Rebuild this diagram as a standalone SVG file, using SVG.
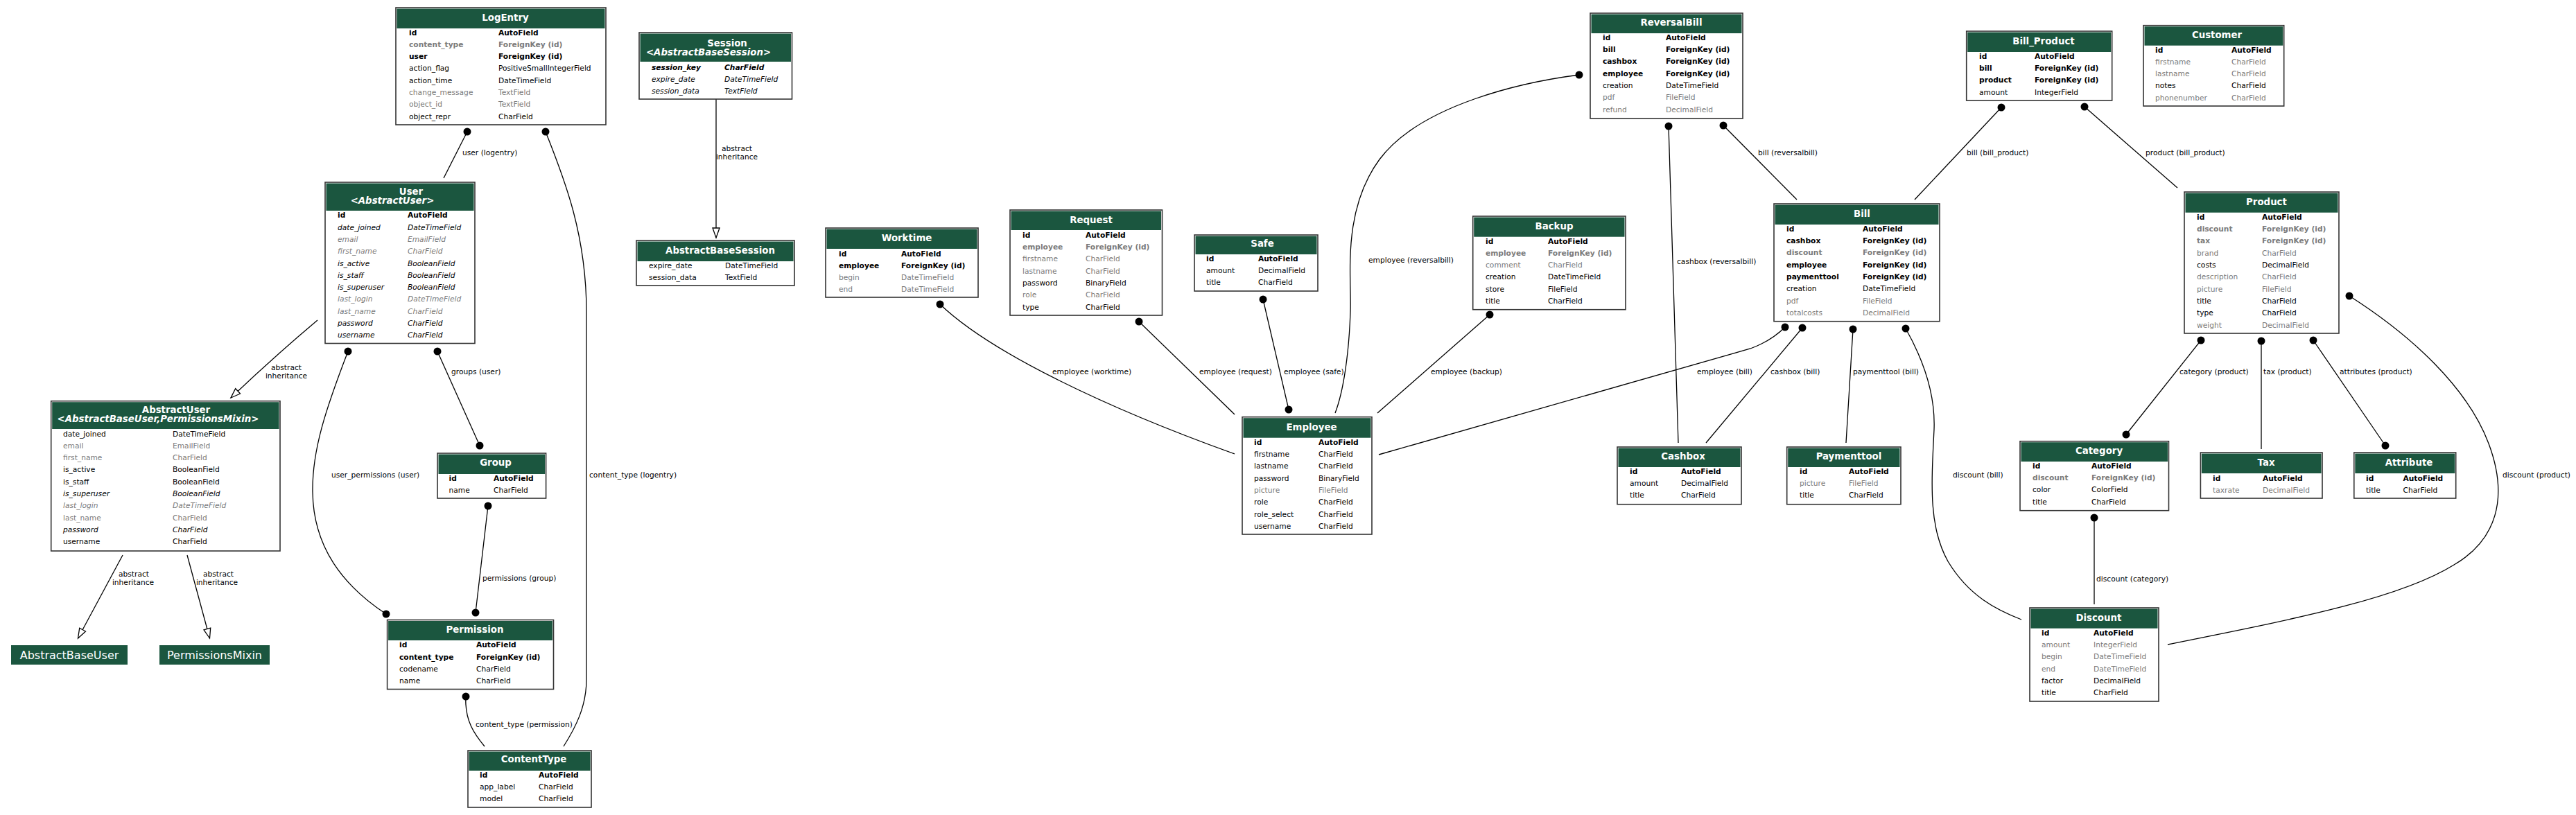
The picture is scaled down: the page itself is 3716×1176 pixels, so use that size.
<svg xmlns="http://www.w3.org/2000/svg" width="3716" height="1176" viewBox="0 0 3716 1176">
<defs>
<style>
text{font-family:"DejaVu Sans","Liberation Sans",sans-serif;font-size:10.67px;fill:#000}
.b{font-weight:bold}
.i{font-style:italic}
.g{fill:#7b7b7b}
.h{font-size:13.33px;font-weight:bold;fill:#fff;text-anchor:middle}
.box{fill:#fff;stroke:#333;stroke-width:1.6}
.hd{fill:#1b563f}
.e{fill:none;stroke:#000;stroke-width:1.3}
.d{fill:#000}
.m{text-anchor:middle}
.ab{fill:#1b563f}
.abt{font-size:16px;fill:#fff;text-anchor:middle}
</style>
<marker id="inh" markerWidth="16" markerHeight="12" refX="14" refY="6" orient="auto" markerUnits="userSpaceOnUse" overflow="visible">
<path d="M0,1 L14,6 L0,11 Z" fill="#fff" stroke="#000" stroke-width="1.3"/>
</marker>
</defs>
<rect width="3716" height="1176" fill="#fff"/>

<g id="connectors">
<path class="e" d="M674,190 L640,257"/>
<path class="e" d="M787,190 C815,260 846,340 846,450 L846,980 C846,1020 830,1050 813,1077"/>
<path class="e" d="M1033,143 L1033,343" marker-end="url(#inh)"/>
<path class="e" d="M458,462 Q395,515 333,574" marker-end="url(#inh)"/>
<path class="e" d="M177,801 L112.5,921" marker-end="url(#inh)"/>
<path class="e" d="M270,801 L302.5,921" marker-end="url(#inh)"/>
<path class="e" d="M631,507 L692,643"/>
<path class="e" d="M704,730 L686,884"/>
<path class="e" d="M502,507 C470,590 450,650 451,710 C452,790 495,845 557,886"/>
<path class="e" d="M672,1005 C670,1040 685,1060 699,1077"/>
<path class="e" d="M1356,439 C1430,510 1600,590 1781,655"/>
<path class="e" d="M1643,464 L1781,598"/>
<path class="e" d="M1822,432 L1859,591"/>
<path class="e" d="M2149,454 L1987,596"/>
<path class="e" d="M2278,108 C2200,118 2050,150 1990,230 C1935,305 1950,400 1948,450 C1946,510 1938,565 1926,596"/>
<path class="e" d="M2575,472 Q2555,492 2525,503 L1989,656"/>
<path class="e" d="M2407,182 L2421,639"/>
<path class="e" d="M2486,181 L2592,288"/>
<path class="e" d="M2600,473 L2461,639"/>
<path class="e" d="M2673,475 L2663,639"/>
<path class="e" d="M2749,474 C2775,520 2792,570 2790,620 C2786,700 2782,760 2810,810 C2840,860 2880,880 2916,894"/>
<path class="e" d="M2887,155 L2762,288"/>
<path class="e" d="M3007,154 L3141,271"/>
<path class="e" d="M3175,491 L3067,627"/>
<path class="e" d="M3262,492 L3262,648"/>
<path class="e" d="M3337,491 L3441,643"/>
<path class="e" d="M3389,427 C3480,485 3560,560 3590,640 C3620,720 3600,780 3540,815 C3460,865 3300,895 3127,930"/>
<path class="e" d="M3021,747 L3021,872"/>
<circle class="d" cx="674" cy="190" r="5.5"/>
<circle class="d" cx="787" cy="190" r="5.5"/>
<circle class="d" cx="502" cy="507" r="5.5"/>
<circle class="d" cx="631" cy="507" r="5.5"/>
<circle class="d" cx="692" cy="643" r="5.5"/>
<circle class="d" cx="704" cy="730" r="5.5"/>
<circle class="d" cx="686" cy="884" r="5.5"/>
<circle class="d" cx="557" cy="886" r="5.5"/>
<circle class="d" cx="672" cy="1005" r="5.5"/>
<circle class="d" cx="1356" cy="439" r="5.5"/>
<circle class="d" cx="1643" cy="464" r="5.5"/>
<circle class="d" cx="1822" cy="432" r="5.5"/>
<circle class="d" cx="1859" cy="591" r="5.5"/>
<circle class="d" cx="2149" cy="454" r="5.5"/>
<circle class="d" cx="2278" cy="108" r="5.5"/>
<circle class="d" cx="2407" cy="182" r="5.5"/>
<circle class="d" cx="2486" cy="181" r="5.5"/>
<circle class="d" cx="2575" cy="472" r="5.5"/>
<circle class="d" cx="2600" cy="473" r="5.5"/>
<circle class="d" cx="2673" cy="475" r="5.5"/>
<circle class="d" cx="2749" cy="474" r="5.5"/>
<circle class="d" cx="2887" cy="155" r="5.5"/>
<circle class="d" cx="3007" cy="154" r="5.5"/>
<circle class="d" cx="3175" cy="491" r="5.5"/>
<circle class="d" cx="3067" cy="627" r="5.5"/>
<circle class="d" cx="3262" cy="492" r="5.5"/>
<circle class="d" cx="3337" cy="491" r="5.5"/>
<circle class="d" cx="3441" cy="643" r="5.5"/>
<circle class="d" cx="3389" cy="427" r="5.5"/>
<circle class="d" cx="3021" cy="747" r="5.5"/>
<text x="667" y="224">user (logentry)</text>
<text class="m" x="1063" y="218">abstract</text>
<text class="m" x="1063" y="230">inheritance</text>
<text class="m" x="413" y="534">abstract</text>
<text class="m" x="413" y="546">inheritance</text>
<text x="651" y="540">groups (user)</text>
<text x="478" y="689">user_permissions (user)</text>
<text x="850" y="689">content_type (logentry)</text>
<text x="696" y="838">permissions (group)</text>
<text class="m" x="193" y="832">abstract</text>
<text class="m" x="192" y="844">inheritance</text>
<text class="m" x="315" y="832">abstract</text>
<text class="m" x="313" y="844">inheritance</text>
<text x="686" y="1049">content_type (permission)</text>
<text x="1518" y="540">employee (worktime)</text>
<text x="1730" y="540">employee (request)</text>
<text x="1852" y="540">employee (safe)</text>
<text x="2064" y="540">employee (backup)</text>
<text x="1974" y="379">employee (reversalbill)</text>
<text x="2419" y="381">cashbox (reversalbill)</text>
<text x="2536" y="224">bill (reversalbill)</text>
<text x="2837" y="224">bill (bill_product)</text>
<text x="3095" y="224">product (bill_product)</text>
<text x="2448" y="540">employee (bill)</text>
<text x="2554" y="540">cashbox (bill)</text>
<text x="2673" y="540">paymenttool (bill)</text>
<text x="3144" y="540">category (product)</text>
<text x="3265" y="540">tax (product)</text>
<text x="3375" y="540">attributes (product)</text>
<text x="2817" y="689">discount (bill)</text>
<text x="3610" y="689">discount (product)</text>
<text x="3024" y="839">discount (category)</text>
</g>

<g id="LogEntry">
<rect class="box" x="571" y="11" width="303" height="169"/>
<rect class="hd" x="572.5" y="12.5" width="300" height="28.5"/>
<text class="h" x="729" y="29.8">LogEntry</text>
<text class="b" x="590" y="50.5">id</text><text class="b" x="719" y="50.5">AutoField</text>
<text class="b g" x="590" y="67.8">content_type</text><text class="b g" x="719" y="67.8">ForeignKey (id)</text>
<text class="b" x="590" y="85.1">user</text><text class="b" x="719" y="85.1">ForeignKey (id)</text>
<text x="590" y="102.4">action_flag</text><text x="719" y="102.4">PositiveSmallIntegerField</text>
<text x="590" y="119.7">action_time</text><text x="719" y="119.7">DateTimeField</text>
<text class="g" x="590" y="137">change_message</text><text class="g" x="719" y="137">TextField</text>
<text class="g" x="590" y="154.3">object_id</text><text class="g" x="719" y="154.3">TextField</text>
<text x="590" y="171.6">object_repr</text><text x="719" y="171.6">CharField</text>
</g>

<g id="Session">
<rect class="box" x="922" y="47" width="220.5" height="96"/>
<rect class="hd" x="923.5" y="48.5" width="217.5" height="40.5"/>
<text class="h" x="1049" y="66.8">Session</text>
<text class="h i" x="1022" y="79.8">&lt;AbstractBaseSession&gt;</text>
<text class="b i" x="940" y="100.8">session_key</text><text class="b i" x="1045" y="100.8">CharField</text>
<text class="i" x="940" y="118.1">expire_date</text><text class="i" x="1045" y="118.1">DateTimeField</text>
<text class="i" x="940" y="135.4">session_data</text><text class="i" x="1045" y="135.4">TextField</text>
</g>

<g id="User">
<rect class="box" x="469" y="263" width="216" height="232.5"/>
<rect class="hd" x="470.5" y="264.5" width="213" height="39.5"/>
<text class="h" x="593" y="281.3">User</text>
<text class="h i" x="566" y="293.8">&lt;AbstractUser&gt;</text>
<text class="b" x="487" y="314.3">id</text><text class="b" x="588" y="314.3">AutoField</text>
<text class="i" x="487" y="331.6">date_joined</text><text class="i" x="588" y="331.6">DateTimeField</text>
<text class="i g" x="487" y="348.9">email</text><text class="i g" x="588" y="348.9">EmailField</text>
<text class="i g" x="487" y="366.2">first_name</text><text class="i g" x="588" y="366.2">CharField</text>
<text class="i" x="487" y="383.5">is_active</text><text class="i" x="588" y="383.5">BooleanField</text>
<text class="i" x="487" y="400.8">is_staff</text><text class="i" x="588" y="400.8">BooleanField</text>
<text class="i" x="487" y="418.1">is_superuser</text><text class="i" x="588" y="418.1">BooleanField</text>
<text class="i g" x="487" y="435.4">last_login</text><text class="i g" x="588" y="435.4">DateTimeField</text>
<text class="i g" x="487" y="452.7">last_name</text><text class="i g" x="588" y="452.7">CharField</text>
<text class="i" x="487" y="470">password</text><text class="i" x="588" y="470">CharField</text>
<text class="i" x="487" y="487.3">username</text><text class="i" x="588" y="487.3">CharField</text>
</g>

<g id="AbstractBaseSession">
<rect class="box" x="918" y="347" width="228" height="65"/>
<rect class="hd" x="919.5" y="348.5" width="225" height="28.5"/>
<text class="h" x="1039" y="365.8">AbstractBaseSession</text>
<text x="936" y="386.8">expire_date</text><text x="1046" y="386.8">DateTimeField</text>
<text x="936" y="404.1">session_data</text><text x="1046" y="404.1">TextField</text>
</g>

<g id="Worktime">
<rect class="box" x="1191" y="329" width="220" height="100"/>
<rect class="hd" x="1192.5" y="330.5" width="217" height="28.5"/>
<text class="h" x="1308" y="347.8">Worktime</text>
<text class="b" x="1210" y="369.5">id</text><text class="b" x="1300" y="369.5">AutoField</text>
<text class="b" x="1210" y="386.8">employee</text><text class="b" x="1300" y="386.8">ForeignKey (id)</text>
<text class="g" x="1210" y="404.1">begin</text><text class="g" x="1300" y="404.1">DateTimeField</text>
<text class="g" x="1210" y="421.4">end</text><text class="g" x="1300" y="421.4">DateTimeField</text>
</g>

<g id="Request">
<rect class="box" x="1457" y="303" width="219.5" height="152"/>
<rect class="hd" x="1458.5" y="304.5" width="216.5" height="27.5"/>
<text class="h" x="1574" y="321.5">Request</text>
<text class="b" x="1475" y="342.8">id</text><text class="b" x="1566" y="342.8">AutoField</text>
<text class="b g" x="1475" y="360.1">employee</text><text class="b g" x="1566" y="360.1">ForeignKey (id)</text>
<text class="g" x="1475" y="377.4">firstname</text><text class="g" x="1566" y="377.4">CharField</text>
<text class="g" x="1475" y="394.7">lastname</text><text class="g" x="1566" y="394.7">CharField</text>
<text x="1475" y="412">password</text><text x="1566" y="412">BinaryField</text>
<text class="g" x="1475" y="429.3">role</text><text class="g" x="1566" y="429.3">CharField</text>
<text x="1475" y="446.6">type</text><text x="1566" y="446.6">CharField</text>
</g>

<g id="Safe">
<rect class="box" x="1723" y="339" width="178" height="81"/>
<rect class="hd" x="1724.5" y="340.5" width="175" height="26.5"/>
<text class="h" x="1821" y="355.8">Safe</text>
<text class="b" x="1740" y="376.8">id</text><text class="b" x="1815" y="376.8">AutoField</text>
<text x="1740" y="394.1">amount</text><text x="1815" y="394.1">DecimalField</text>
<text x="1740" y="411.4">title</text><text x="1815" y="411.4">CharField</text>
</g>

<g id="Employee">
<rect class="box" x="1792" y="601.7" width="187" height="169.3"/>
<rect class="hd" x="1793.5" y="603.2" width="184" height="28.5"/>
<text class="h" x="1892" y="620.5">Employee</text>
<text class="b" x="1809" y="641.8">id</text><text class="b" x="1902" y="641.8">AutoField</text>
<text x="1809" y="659.1">firstname</text><text x="1902" y="659.1">CharField</text>
<text x="1809" y="676.4">lastname</text><text x="1902" y="676.4">CharField</text>
<text x="1809" y="693.7">password</text><text x="1902" y="693.7">BinaryField</text>
<text class="g" x="1809" y="711">picture</text><text class="g" x="1902" y="711">FileField</text>
<text x="1809" y="728.3">role</text><text x="1902" y="728.3">CharField</text>
<text x="1809" y="745.6">role_select</text><text x="1902" y="745.6">CharField</text>
<text x="1809" y="762.9">username</text><text x="1902" y="762.9">CharField</text>
</g>

<g id="Backup">
<rect class="box" x="2124.7" y="312" width="220.3" height="134.7"/>
<rect class="hd" x="2126.2" y="313.5" width="217.3" height="28.2"/>
<text class="h" x="2242" y="330.5">Backup</text>
<text class="b" x="2143" y="351.5">id</text><text class="b" x="2233" y="351.5">AutoField</text>
<text class="b g" x="2143" y="368.8">employee</text><text class="b g" x="2233" y="368.8">ForeignKey (id)</text>
<text class="g" x="2143" y="386.1">comment</text><text class="g" x="2233" y="386.1">CharField</text>
<text x="2143" y="403.4">creation</text><text x="2233" y="403.4">DateTimeField</text>
<text x="2143" y="420.7">store</text><text x="2233" y="420.7">FileField</text>
<text x="2143" y="438">title</text><text x="2233" y="438">CharField</text>
</g>

<g id="ReversalBill">
<rect class="box" x="2294" y="19" width="220" height="152"/>
<rect class="hd" x="2295.5" y="20.5" width="217" height="27.5"/>
<text class="h" x="2411" y="36.8">ReversalBill</text>
<text class="b" x="2312" y="57.8">id</text><text class="b" x="2403" y="57.8">AutoField</text>
<text class="b" x="2312" y="75.1">bill</text><text class="b" x="2403" y="75.1">ForeignKey (id)</text>
<text class="b" x="2312" y="92.4">cashbox</text><text class="b" x="2403" y="92.4">ForeignKey (id)</text>
<text class="b" x="2312" y="109.7">employee</text><text class="b" x="2403" y="109.7">ForeignKey (id)</text>
<text x="2312" y="127">creation</text><text x="2403" y="127">DateTimeField</text>
<text class="g" x="2312" y="144.3">pdf</text><text class="g" x="2403" y="144.3">FileField</text>
<text class="g" x="2312" y="161.6">refund</text><text class="g" x="2403" y="161.6">DecimalField</text>
</g>

<g id="Bill">
<rect class="box" x="2559" y="294" width="239" height="169.7"/>
<rect class="hd" x="2560.5" y="295.5" width="236" height="28.5"/>
<text class="h" x="2686" y="312.8">Bill</text>
<text class="b" x="2577" y="333.8">id</text><text class="b" x="2687" y="333.8">AutoField</text>
<text class="b" x="2577" y="351.1">cashbox</text><text class="b" x="2687" y="351.1">ForeignKey (id)</text>
<text class="b g" x="2577" y="368.4">discount</text><text class="b g" x="2687" y="368.4">ForeignKey (id)</text>
<text class="b" x="2577" y="385.7">employee</text><text class="b" x="2687" y="385.7">ForeignKey (id)</text>
<text class="b" x="2577" y="403">paymenttool</text><text class="b" x="2687" y="403">ForeignKey (id)</text>
<text x="2577" y="420.3">creation</text><text x="2687" y="420.3">DateTimeField</text>
<text class="g" x="2577" y="437.6">pdf</text><text class="g" x="2687" y="437.6">FileField</text>
<text class="g" x="2577" y="454.9">totalcosts</text><text class="g" x="2687" y="454.9">DecimalField</text>
</g>

<g id="Bill_Product">
<rect class="box" x="2836.7" y="45" width="210" height="100"/>
<rect class="hd" x="2838.2" y="46.5" width="207" height="28.5"/>
<text class="h" x="2948" y="63.8">Bill_Product</text>
<text class="b" x="2855" y="84.8">id</text><text class="b" x="2935" y="84.8">AutoField</text>
<text class="b" x="2855" y="102.1">bill</text><text class="b" x="2935" y="102.1">ForeignKey (id)</text>
<text class="b" x="2855" y="119.4">product</text><text class="b" x="2935" y="119.4">ForeignKey (id)</text>
<text x="2855" y="136.7">amount</text><text x="2935" y="136.7">IntegerField</text>
</g>

<g id="Customer">
<rect class="box" x="3092" y="36.7" width="202.7" height="116.3"/>
<rect class="hd" x="3093.5" y="38.2" width="199.7" height="27.5"/>
<text class="h" x="3198" y="54.8">Customer</text>
<text class="b" x="3109" y="75.5">id</text><text class="b" x="3219" y="75.5">AutoField</text>
<text class="g" x="3109" y="92.8">firstname</text><text class="g" x="3219" y="92.8">CharField</text>
<text class="g" x="3109" y="110.1">lastname</text><text class="g" x="3219" y="110.1">CharField</text>
<text x="3109" y="127.4">notes</text><text x="3219" y="127.4">CharField</text>
<text class="g" x="3109" y="144.7">phonenumber</text><text class="g" x="3219" y="144.7">CharField</text>
</g>

<g id="Product">
<rect class="box" x="3151" y="277" width="223" height="204"/>
<rect class="hd" x="3152.5" y="278.5" width="220" height="28.2"/>
<text class="h" x="3269.5" y="295.5">Product</text>
<text class="b" x="3169" y="316.8">id</text><text class="b" x="3263" y="316.8">AutoField</text>
<text class="b g" x="3169" y="334.1">discount</text><text class="b g" x="3263" y="334.1">ForeignKey (id)</text>
<text class="b g" x="3169" y="351.4">tax</text><text class="b g" x="3263" y="351.4">ForeignKey (id)</text>
<text class="g" x="3169" y="368.7">brand</text><text class="g" x="3263" y="368.7">CharField</text>
<text x="3169" y="386">costs</text><text x="3263" y="386">DecimalField</text>
<text class="g" x="3169" y="403.3">description</text><text class="g" x="3263" y="403.3">CharField</text>
<text class="g" x="3169" y="420.6">picture</text><text class="g" x="3263" y="420.6">FileField</text>
<text x="3169" y="437.9">title</text><text x="3263" y="437.9">CharField</text>
<text x="3169" y="455.2">type</text><text x="3263" y="455.2">CharField</text>
<text class="g" x="3169" y="472.5">weight</text><text class="g" x="3263" y="472.5">DecimalField</text>
</g>

<g id="Cashbox">
<rect class="box" x="2333" y="645" width="179" height="82.7"/>
<rect class="hd" x="2334.5" y="646.5" width="176" height="27.5"/>
<text class="h" x="2428" y="662.8">Cashbox</text>
<text class="b" x="2351" y="683.8">id</text><text class="b" x="2425" y="683.8">AutoField</text>
<text x="2351" y="701.1">amount</text><text x="2425" y="701.1">DecimalField</text>
<text x="2351" y="718.4">title</text><text x="2425" y="718.4">CharField</text>
</g>

<g id="Paymenttool">
<rect class="box" x="2577.7" y="645" width="164.3" height="82.7"/>
<rect class="hd" x="2579.2" y="646.5" width="161.3" height="27.5"/>
<text class="h" x="2667" y="662.8">Paymenttool</text>
<text class="b" x="2596" y="683.8">id</text><text class="b" x="2667" y="683.8">AutoField</text>
<text class="g" x="2596" y="701.1">picture</text><text class="g" x="2667" y="701.1">FileField</text>
<text x="2596" y="718.4">title</text><text x="2667" y="718.4">CharField</text>
</g>

<g id="Category">
<rect class="box" x="2914" y="636.7" width="214.5" height="100"/>
<rect class="hd" x="2915.5" y="638.2" width="211.5" height="27.8"/>
<text class="h" x="3028" y="654.8">Category</text>
<text class="b" x="2932" y="675.8">id</text><text class="b" x="3017" y="675.8">AutoField</text>
<text class="b g" x="2932" y="693.1">discount</text><text class="b g" x="3017" y="693.1">ForeignKey (id)</text>
<text x="2932" y="710.4">color</text><text x="3017" y="710.4">ColorField</text>
<text x="2932" y="727.7">title</text><text x="3017" y="727.7">CharField</text>
</g>

<g id="Tax">
<rect class="box" x="3174.4" y="653" width="175.6" height="66"/>
<rect class="hd" x="3175.9" y="654.5" width="172.6" height="28.5"/>
<text class="h" x="3269" y="671.8">Tax</text>
<text class="b" x="3192" y="693.5">id</text><text class="b" x="3264" y="693.5">AutoField</text>
<text class="g" x="3192" y="710.8">taxrate</text><text class="g" x="3264" y="710.8">DecimalField</text>
</g>

<g id="Attribute">
<rect class="box" x="3395.8" y="653" width="146.9" height="66"/>
<rect class="hd" x="3397.3" y="654.5" width="143.9" height="28.5"/>
<text class="h" x="3475" y="671.8">Attribute</text>
<text class="b" x="3413" y="693.5">id</text><text class="b" x="3466.5" y="693.5">AutoField</text>
<text x="3413" y="710.8">title</text><text x="3466.5" y="710.8">CharField</text>
</g>

<g id="Discount">
<rect class="box" x="2928" y="877" width="186" height="135"/>
<rect class="hd" x="2929.5" y="878.5" width="183" height="28.2"/>
<text class="h" x="3027.4" y="895.8">Discount</text>
<text class="b" x="2945" y="916.8">id</text><text class="b" x="3020" y="916.8">AutoField</text>
<text class="g" x="2945" y="934.1">amount</text><text class="g" x="3020" y="934.1">IntegerField</text>
<text class="g" x="2945" y="951.4">begin</text><text class="g" x="3020" y="951.4">DateTimeField</text>
<text class="g" x="2945" y="968.7">end</text><text class="g" x="3020" y="968.7">DateTimeField</text>
<text x="2945" y="986">factor</text><text x="3020" y="986">DecimalField</text>
<text x="2945" y="1003.3">title</text><text x="3020" y="1003.3">CharField</text>
</g>

<g id="AbstractUser">
<rect class="box" x="73.7" y="578.7" width="330.3" height="216.3"/>
<rect class="hd" x="75.2" y="580.2" width="327.3" height="38.8"/>
<text class="h" x="254" y="595.8">AbstractUser</text>
<text class="h i" x="228" y="609.4">&lt;AbstractBaseUser,PermissionsMixin&gt;</text>
<text x="91" y="629.5">date_joined</text><text x="249" y="629.5">DateTimeField</text>
<text class="g" x="91" y="646.8">email</text><text class="g" x="249" y="646.8">EmailField</text>
<text class="g" x="91" y="664.1">first_name</text><text class="g" x="249" y="664.1">CharField</text>
<text x="91" y="681.4">is_active</text><text x="249" y="681.4">BooleanField</text>
<text x="91" y="698.7">is_staff</text><text x="249" y="698.7">BooleanField</text>
<text class="i" x="91" y="716">is_superuser</text><text class="i" x="249" y="716">BooleanField</text>
<text class="i g" x="91" y="733.3">last_login</text><text class="i g" x="249" y="733.3">DateTimeField</text>
<text class="g" x="91" y="750.6">last_name</text><text class="g" x="249" y="750.6">CharField</text>
<text class="i" x="91" y="767.9">password</text><text class="i" x="249" y="767.9">CharField</text>
<text x="91" y="785.2">username</text><text x="249" y="785.2">CharField</text>
</g>

<g id="AbstractBaseUser">
<rect class="ab" x="16" y="931" width="168" height="28"/>
<text class="abt" x="100" y="951">AbstractBaseUser</text>
</g>

<g id="PermissionsMixin">
<rect class="ab" x="230" y="931" width="159" height="28"/>
<text class="abt" x="309.5" y="951">PermissionsMixin</text>
</g>

<g id="Group">
<rect class="box" x="631" y="654" width="156.6" height="65"/>
<rect class="hd" x="632.5" y="655.5" width="153.6" height="28.5"/>
<text class="h" x="715" y="672.3">Group</text>
<text class="b" x="647.5" y="693.8">id</text><text class="b" x="712" y="693.8">AutoField</text>
<text x="647.5" y="711.1">name</text><text x="712" y="711.1">CharField</text>
</g>

<g id="Permission">
<rect class="box" x="558.6" y="894.5" width="239.9" height="100"/>
<rect class="hd" x="560.1" y="896" width="236.9" height="28"/>
<text class="h" x="685" y="912.8">Permission</text>
<text class="b" x="576" y="934.4">id</text><text class="b" x="687" y="934.4">AutoField</text>
<text class="b" x="576" y="951.7">content_type</text><text class="b" x="687" y="951.7">ForeignKey (id)</text>
<text x="576" y="969">codename</text><text x="687" y="969">CharField</text>
<text x="576" y="986.3">name</text><text x="687" y="986.3">CharField</text>
</g>

<g id="ContentType">
<rect class="box" x="675" y="1083" width="178" height="82"/>
<rect class="hd" x="676.5" y="1084.5" width="175" height="27.5"/>
<text class="h" x="770" y="1100.3">ContentType</text>
<text class="b" x="692" y="1121.8">id</text><text class="b" x="777" y="1121.8">AutoField</text>
<text x="692" y="1139.1">app_label</text><text x="777" y="1139.1">CharField</text>
<text x="692" y="1156.4">model</text><text x="777" y="1156.4">CharField</text>
</g>
</svg>
